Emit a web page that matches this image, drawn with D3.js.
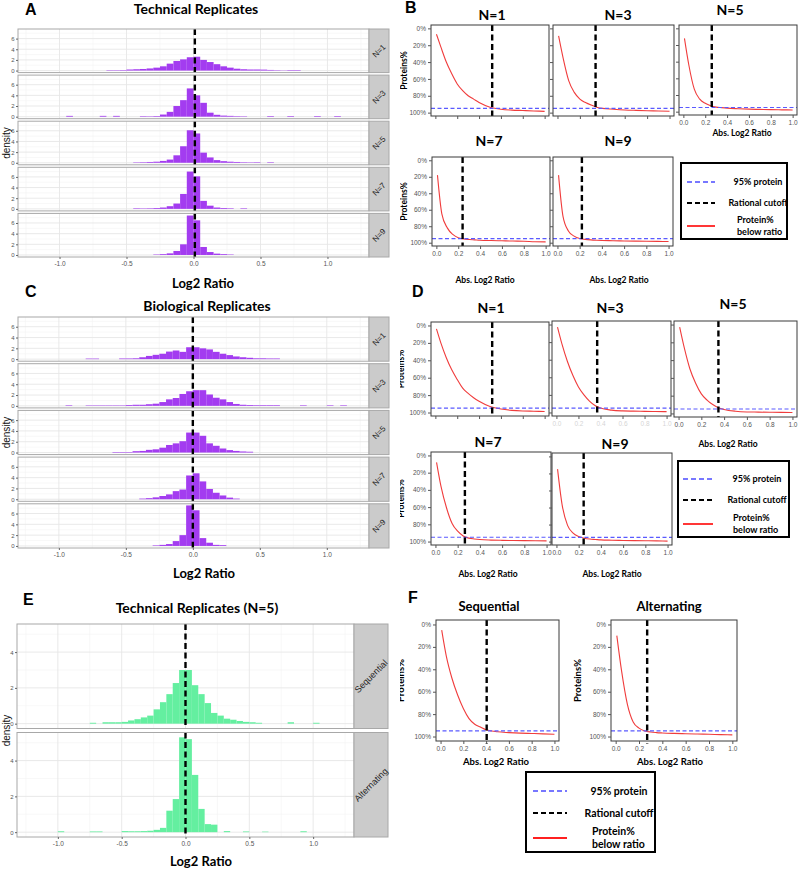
<!DOCTYPE html>
<html><head><meta charset="utf-8">
<script src="https://cdn.jsdelivr.net/npm/d3@7"></script>
<style>body{margin:0;background:#fff}svg{display:block}</style>
</head><body>
<script>
// ================= DATA =================
// Histogram densities, bins of width 0.05 starting at -1.0 (44 bins)
const histStart = -1.0;
const binW = 0.05;
const nLabels = ["N=1", "N=3", "N=5", "N=7", "N=9"];
const mixLabels = ["Sequential", "Alternating"];
const histTicks = [-1.0, -0.5, 0, 0.5, 1.0];
const densTicksAC = [0, 2, 4, 6];
const densTicksE = [0, 2, 4];

const techN1 = [0,0,0,0,0,0,0,0.08,0.08,0.1, 0.2,0.25,0.3,0.4,0.55,0.8,1.3,1.8,2.1,2.5, 2.6,2.0,1.6,1.2,0.8,0.55,0.35,0.25,0.2,0.2, 0.18,0.12,0.08,0.05,0.1,0.1,0,0,0,0, 0,0,0,0];
const techN3 = [0,0.15,0,0,0,0,0.15,0,0.15,0, 0,0,0.1,0.08,0.12,0.4,0.9,2.0,3.1,5.3, 4.0,2.6,0.75,0.35,0.2,0.15,0.1,0.08,0,0, 0,0.12,0,0,0.12,0,0,0,0.12,0, 0,0.12,0,0];
const techN5 = [0,0,0,0,0,0,0,0,0,0, 0,0.08,0.1,0.15,0.2,0.35,0.6,1.4,3.1,6.1, 5.5,1.9,1.0,0.5,0.3,0.2,0.15,0.1,0.08,0.1, 0,0.1,0,0,0,0,0,0,0,0, 0,0,0,0];
const techN7 = [0,0,0,0,0,0,0,0,0,0, 0,0.1,0.08,0.1,0.15,0.25,0.5,1.0,2.8,7.0, 6.1,1.5,0.6,0.25,0.15,0.1,0,0.1,0,0, 0,0,0,0,0,0,0,0,0,0, 0,0,0,0];
const techN9 = [0,0,0,0,0,0,0,0,0,0, 0,0,0,0,0.08,0.15,0.3,0.75,2.0,7.4, 6.5,1.5,0.55,0.25,0.15,0.08,0,0,0,0, 0,0,0,0,0,0,0,0,0,0, 0,0,0,0];

const bioN1 = [0,0,0,0,0.1,0.1,0,0,0,0.12, 0.12,0.15,0.35,0.6,0.8,1.0,1.4,1.6,1.35,2.2, 2.2,2.0,1.8,1.35,1.0,0.75,0.5,0.35,0.25,0.15, 0.15,0.12,0.12,0,0,0,0,0,0,0, 0,0,0,0];
const bioN3 = [0,0.1,0,0,0.08,0.08,0.08,0.08,0.08,0.08, 0.15,0.2,0.2,0.3,0.4,0.7,1.2,1.45,2.2,2.7, 2.9,2.9,2.1,1.5,1.2,0.7,0.35,0.2,0.15,0.12, 0.12,0.12,0.12,0,0,0,0.1,0,0,0, 0.1,0,0.1,0];
const bioN5 = [0,0,0,0,0,0,0,0,0.1,0.1, 0.1,0.25,0.3,0.5,0.6,0.9,1.4,1.7,2.1,3.7, 3.7,3.1,1.7,1.25,0.75,0.45,0.3,0.2,0.15,0, 0,0,0,0,0,0,0,0,0,0, 0,0,0,0];
const bioN7 = [0,0,0,0,0,0,0,0,0,0, 0,0,0.12,0.2,0.35,0.6,0.9,1.5,1.8,4.4, 4.8,3.3,1.9,1.2,0.7,0.3,0.12,0,0,0, 0,0,0,0,0,0,0,0,0,0, 0,0,0,0];
const bioN9 = [0,0,0,0,0,0,0,0,0,0, 0,0,0,0,0.1,0.2,0.35,0.9,2.0,7.5, 6.6,1.45,0.6,0.2,0.15,0,0,0,0,0, 0,0,0,0,0,0,0,0,0,0, 0,0,0,0];

const seqN5 = [0,0,0,0,0,0.05,0,0.08,0.08,0.08, 0.1,0.18,0.25,0.35,0.45,0.8,1.2,1.65,2.27,3.0, 3.0,2.15,1.65,1.15,0.6,0.45,0.28,0.22,0.15,0.1, 0.08,0.05,0,0,0,0,0.08,0,0,0, 0.05,0,0,0];
const altN5 = [0.05,0,0,0,0,0.04,0.04,0,0,0, 0.06,0.05,0.05,0.06,0.08,0.13,0.24,1.2,1.85,5.3, 5.2,3.2,1.3,0.45,0.42,0,0.06,0,0,0.04, 0,0,0.03,0,0,0,0,0,0.05,0, 0,0,0,0];

const vlineTech = 0.01, vlineBio = 0.0, vlineMix = 0.0;

// Cumulative curves: % proteins below |log2 ratio|
const absXs = [0.01, 0.05, 0.1, 0.15, 0.2, 0.25, 0.3, 0.35, 0.4, 0.5, 0.6, 0.7, 0.8, 0.9, 1.0];
const pctTicks = [0, 20, 40, 60, 80, 100];
const absTicks = [0, 0.2, 0.4, 0.6, 0.8, 1.0];

const techCumN1 = [7,22,40,54,66,74,80,84,88,93.5,96,97,97.5,98,98.5];
const techCumN3 = [9,35,62,76,84,88,91,93.5,95,96,96.8,97.3,97.7,98,98.3];
const techCumN5 = [12,44,73,85,90,93,94.5,95.2,95.8,96.5,97,97.3,97.6,97.8,98];
const techCumN7 = [18,65,82,90,94,95.5,96.2,96.6,97,97.4,97.7,98,98.2,98.8,99];
const techCumN9 = [18,68,86,92,95,96,96.6,97,97.3,97.6,97.9,98.1,98.3,98.4,98.5];

const bioCumN1 = [4,20,37,51,62,72,78,83,87,93,96,97.5,98.2,98.5,98.8];
const bioCumN3 = [3,22,42,58,71,80,87,92,95,97.3,98.2,98.5,98.7,98.9,99];
const bioCumN5 = [3,26,50,66,78,85,90,93.5,95.5,97.5,98.3,98.5,98.7,98.8,99];
const bioCumN7 = [8,36,61,79,88,93.5,96,97,97.7,98.3,98.6,98.8,98.9,99,99.2];
const bioCumN9 = [15,56,81,90,94,96,97,97.5,98,98.4,98.7,98.9,99,99.2,99.4];

const seqCum = [5,28,48,63,75,84,89,91.5,94,95.8,96.5,97,97.3,97.6,98];
const altCum = [10,41,71,87,92.5,95,96,96.5,96.8,97.2,97.5,97.8,98,98.3,98.5];

const techCutoffs = [0.52, 0.34, 0.26, 0.24, 0.22];
const bioCutoffs = [0.52, 0.37, 0.35, 0.265, 0.245];
const mixCutoffs = [0.405, 0.27];
const pct95 = 95;

const legendLabels = [["95% protein"], ["Rational cutoff"], ["Protein%", "below ratio"]];

// ================= DRAWING =================
const SANS = "'Liberation Sans', Arial, sans-serif";
const CAL = "Lato, 'Open Sans', sans-serif";
const svg = d3.select("body").append("svg").attr("width", 800).attr("height", 870)
  .style("font-family", SANS);
svg.append("rect").attr("width", 800).attr("height", 870).attr("fill", "#fff");

function txt(g, x, y, s, size, opts = {}) {
  return g.append("text").attr("x", x).attr("y", y).text(s)
    .attr("font-size", size)
    .attr("font-family", opts.family || SANS)
    .attr("font-weight", opts.weight || "normal")
    .attr("text-anchor", opts.anchor || "start")
    .attr("fill", opts.fill || "#000");
}

function facetHist(o) {
  const x = d3.scaleLinear().domain(o.xDomain).range([o.left, o.right]);
  const n = o.series.length;
  o.series.forEach((vals, k) => {
    const top = o.top + k * (o.h + o.gap);
    const y = d3.scaleLinear().domain(o.yDomain).range([top + o.h, top]);
    const g = svg.append("g");
    g.append("rect").attr("x", o.left).attr("y", top).attr("width", o.right - o.left).attr("height", o.h).attr("fill", "#fff");
    const minorX = [-1.25, -0.75, -0.25, 0.25, 0.75, 1.25];
    g.selectAll(null).data(minorX).join("line")
      .attr("x1", d => x(d)).attr("x2", d => x(d)).attr("y1", top).attr("y2", top + o.h)
      .attr("stroke", "#f4f4f4").attr("stroke-width", 0.6);
    g.selectAll(null).data(o.yMinor).join("line")
      .attr("x1", o.left).attr("x2", o.right).attr("y1", d => y(d)).attr("y2", d => y(d))
      .attr("stroke", "#f4f4f4").attr("stroke-width", 0.6);
    g.selectAll(null).data(histTicks).join("line")
      .attr("x1", d => x(d)).attr("x2", d => x(d)).attr("y1", top).attr("y2", top + o.h)
      .attr("stroke", "#e6e6e6").attr("stroke-width", 0.9);
    g.selectAll(null).data(o.yTicks).join("line")
      .attr("x1", o.left).attr("x2", o.right).attr("y1", d => y(d)).attr("y2", d => y(d))
      .attr("stroke", "#e6e6e6").attr("stroke-width", 0.9);
    const bars = vals.map((v, i) => ({ x0: histStart + i * binW, v })).filter(d => d.v > 0);
    g.selectAll(null).data(bars).join("rect")
      .attr("x", d => x(d.x0)).attr("width", d => x(d.x0 + binW) - x(d.x0))
      .attr("y", d => y(d.v)).attr("height", d => y(0) - y(d.v))
      .attr("fill", o.color);
    g.append("line").attr("x1", x(o.vline)).attr("x2", x(o.vline))
      .attr("y1", top).attr("y2", top + o.h)
      .attr("stroke", "#000").attr("stroke-width", 2.4).attr("stroke-dasharray", "6,3.5");
    g.append("rect").attr("x", o.left).attr("y", top).attr("width", o.right - o.left).attr("height", o.h)
      .attr("fill", "none").attr("stroke", "#a8a8a8").attr("stroke-width", 1);
    g.append("rect").attr("x", o.right).attr("y", top).attr("width", o.stripW).attr("height", o.h)
      .attr("fill", "#cbcbcb").attr("stroke", "#a8a8a8").attr("stroke-width", 1);
    g.append("text")
      .attr("transform", `translate(${o.right + o.stripW / 2},${top + o.h / 2}) rotate(-45)`)
      .attr("text-anchor", "middle").attr("dy", "0.35em")
      .attr("font-size", o.stripFont).attr("fill", "#222").text(o.labels[k]);
    const ag = g.append("g").attr("transform", `translate(${o.left},0)`)
      .call(d3.axisLeft(y).tickValues(o.yTicks).tickFormat(d3.format("d")).tickSize(2).tickPadding(1.5));
    ag.select(".domain").remove();
    ag.attr("font-size", 6).attr("font-family", SANS);
    ag.selectAll("text").attr("fill", "#555");
    ag.selectAll("line").attr("stroke", "#666");
  });
  const bottom = o.top + n * o.h + (n - 1) * o.gap;
  const xg = svg.append("g").attr("transform", `translate(0,${bottom})`)
    .call(d3.axisBottom(x).tickValues(histTicks).tickFormat(d => d.toFixed(1)).tickSize(2).tickPadding(2.5));
  xg.select(".domain").remove();
  xg.attr("font-size", 6.5).attr("font-family", SANS);
  xg.selectAll("text").attr("fill", "#555");
  xg.selectAll("line").attr("stroke", "#666");
  svg.append("text")
    .attr("transform", `translate(${o.ylabX},${o.top + (bottom - o.top) / 2}) rotate(-90)`)
    .attr("text-anchor", "middle").attr("dy", "0.35em")
    .attr("font-size", 10).attr("fill", "#111").text("density");
}

// ----- Panel A -----
facetHist({ series: [techN1, techN3, techN5, techN7, techN9], labels: nLabels, color: "#a33cf0",
  left: 18, right: 369, stripW: 20, top: 29, h: 43.6, gap: 2.5,
  xDomain: [-1.31, 1.31], yDomain: [-0.38, 7.8], yTicks: densTicksAC, yMinor: [1, 3, 5, 7],
  vline: vlineTech, stripFont: 8, ylabX: 6 });
// ----- Panel C -----
facetHist({ series: [bioN1, bioN3, bioN5, bioN7, bioN9], labels: nLabels, color: "#a33cf0",
  left: 18, right: 369, stripW: 20, top: 317, h: 44.2, gap: 2.5,
  xDomain: [-1.305, 1.315], yDomain: [-0.38, 7.8], yTicks: densTicksAC, yMinor: [1, 3, 5, 7],
  vline: vlineBio, stripFont: 8, ylabX: 6 });
// ----- Panel E -----
facetHist({ series: [seqN5, altN5], labels: mixLabels, color: "#64efa0",
  left: 17, right: 354, stripW: 34, top: 624, h: 104.5, gap: 4,
  xDomain: [-1.32, 1.32], yDomain: [-0.27, 5.57], yTicks: densTicksE, yMinor: [1, 3, 5],
  vline: vlineMix, stripFont: 9, ylabX: 6 });

// Left-side titles & labels
txt(svg, 25, 15, "A", 16, { weight: "bold" });
txt(svg, 25, 297, "C", 16, { weight: "bold" });
txt(svg, 23, 605, "E", 16, { weight: "bold" });
txt(svg, 196, 14, "Technical Replicates", 14, { family: CAL, weight: "bold", anchor: "middle" });
txt(svg, 207, 311, "Biological Replicates", 14, { family: CAL, weight: "bold", anchor: "middle" });
txt(svg, 197, 613, "Technical Replicates (N=5)", 14, { family: CAL, weight: "bold", anchor: "middle" });
txt(svg, 203, 288, "Log2 Ratio", 13, { family: CAL, weight: "bold", anchor: "middle" });
txt(svg, 204, 578, "Log2 Ratio", 13, { family: CAL, weight: "bold", anchor: "middle" });
txt(svg, 201, 866, "Log2 Ratio", 13, { family: CAL, weight: "bold", anchor: "middle" });

// ----- Right side -----
svg.append("defs").append("clipPath").attr("id", "rightHalf")
  .append("rect").attr("x", 400).attr("y", 0).attr("width", 400).attr("height", 870);
const R = svg.append("g").attr("clip-path", "url(#rightHalf)");

const lineGen = (x, y) => d3.line().x(d => x(d[0])).y(d => y(d[1])).curve(d3.curveMonotoneX);

function cumPanel(o) {
  const x = d3.scaleLinear().domain([-0.04, 1.04]).range([o.x0, o.x0 + o.w]);
  const y = d3.scaleLinear().domain([-4, 104]).range([o.y0, o.y0 + o.h]);
  const g = R.append("g");
  g.append("path").datum(d3.zip(absXs, o.ys)).attr("d", lineGen(x, y))
    .attr("fill", "none").attr("stroke", "#f03c3c").attr("stroke-width", 1.1);
  g.append("line").attr("x1", o.x0).attr("x2", o.x0 + o.w).attr("y1", y(pct95)).attr("y2", y(pct95))
    .attr("stroke", "#5a5aff").attr("stroke-width", 1.2).attr("stroke-dasharray", "4,2.5");
  g.append("line").attr("x1", x(o.cutoff)).attr("x2", x(o.cutoff))
    .attr("y1", o.y0).attr("y2", o.y0 + o.h + (o.cutExt || 0))
    .attr("stroke", "#000").attr("stroke-width", 2.4).attr("stroke-dasharray", "6,3.5");
  g.append("rect").attr("x", o.x0).attr("y", o.y0).attr("width", o.w).attr("height", o.h)
    .attr("fill", "none").attr("stroke", "#3a3a3a").attr("stroke-width", 1);
  const ya = g.append("g").attr("transform", `translate(${o.x0},0)`)
    .call(d3.axisLeft(y).tickValues(pctTicks).tickSize(3).tickPadding(2)
      .tickFormat(o.yLab ? (d => d + "%") : (() => "")));
  ya.select(".domain").remove();
  ya.attr("font-size", 6.5).attr("font-family", SANS);
  ya.selectAll("text").attr("fill", "#555");
  ya.selectAll("line").attr("stroke", "#555");
  const xa = g.append("g").attr("transform", `translate(0,${o.y0 + o.h})`)
    .call(d3.axisBottom(x).tickValues(absTicks).tickSize(3).tickPadding(2)
      .tickFormat(o.xLab ? (d => d.toFixed(1)) : (() => "")));
  xa.select(".domain").remove();
  xa.attr("font-size", 6.5).attr("font-family", SANS);
  xa.selectAll("text").attr("fill", "#555").attr("opacity", o.xLabOp || 1);
  xa.selectAll("line").attr("stroke", "#555");
  txt(g, o.tx, o.ty, o.title, o.tsize || 14, { family: CAL, weight: "bold", anchor: "middle" });
  if (o.xTitle) txt(g, o.xTitle[0], o.xTitle[1], "Abs. Log2 Ratio", o.xtsize || 8.5, { family: CAL, weight: "bold", anchor: "middle" });
  if (o.yTitleX) {
    g.append("text").attr("transform", `translate(${o.yTitleX},${o.y0 + o.h / 2}) rotate(-90)`)
      .attr("text-anchor", "middle").attr("dy", "0.35em").attr("font-family", CAL)
      .attr("font-weight", "bold").attr("font-size", o.ytsize || 8.5).text("Proteins%");
  }
}

function legendBox(o) {
  const g = R.append("g");
  g.append("rect").attr("x", o.x).attr("y", o.y).attr("width", o.w).attr("height", o.h)
    .attr("fill", "#fff").attr("stroke", "#000").attr("stroke-width", 2);
  const styles = [
    { c: "#4b4bff", d: "5,3", w: 1.6 },
    { c: "#000", d: "5,3", w: 2 },
    { c: "#ff2020", d: null, w: 1.8 }];
  legendLabels.forEach((lab, i) => {
    const ly = o.y + o.rows[i];
    g.append("line").attr("x1", o.x + o.l0).attr("x2", o.x + o.l1).attr("y1", ly).attr("y2", ly)
      .attr("stroke", styles[i].c).attr("stroke-width", styles[i].w)
      .attr("stroke-dasharray", styles[i].d);
    if (lab.length === 1) {
      txt(g, o.x + o.tc, ly + o.fs * 0.35, lab[0], o.fs, { family: CAL, weight: "bold", anchor: "middle" });
    } else {
      txt(g, o.x + o.t3, ly - o.fs * 0.3, lab[0], o.fs, { family: CAL, weight: "bold" });
      txt(g, o.x + o.t3, ly + o.fs * 0.95, lab[1], o.fs, { family: CAL, weight: "bold" });
    }
  });
}

// ----- Panel B -----
txt(R, 405, 13, "B", 16, { weight: "bold" });
cumPanel({ x0: 431, y0: 25, w: 118, h: 91, ys: techCumN1, cutoff: techCutoffs[0], title: nLabels[0], tx: 492, ty: 20, yLab: true, xLab: false, yTitleX: 404 });
cumPanel({ x0: 553, y0: 25, w: 121, h: 91, ys: techCumN3, cutoff: techCutoffs[1], title: nLabels[1], tx: 618, ty: 20, yLab: false, xLab: false });
cumPanel({ x0: 679, y0: 25, w: 118, h: 90, ys: techCumN5, cutoff: techCutoffs[2], title: nLabels[2], tx: 730, ty: 15, yLab: false, xLab: true, xTitle: [742, 136] });
cumPanel({ x0: 432, y0: 157, w: 118, h: 89, ys: techCumN7, cutoff: techCutoffs[3], title: nLabels[3], tx: 489, ty: 146, yLab: true, xLab: true, xTitle: [485, 283], yTitleX: 404 });
cumPanel({ x0: 553, y0: 157, w: 120, h: 89, ys: techCumN9, cutoff: techCutoffs[4], title: nLabels[4], tx: 618, ty: 146, yLab: false, xLab: true, xTitle: [619, 283] });
legendBox({ x: 681, y: 163, w: 106, h: 76, rows: [19, 40, 63], l0: 6, l1: 34, tc: 77, t3: 56, fs: 9 });

// ----- Panel D -----
txt(R, 412, 297, "D", 16, { weight: "bold" });
cumPanel({ x0: 431, y0: 322, w: 118, h: 94, ys: bioCumN1, cutoff: bioCutoffs[0], title: nLabels[0], tx: 491, ty: 313, yLab: true, xLab: false, yTitleX: 401 });
cumPanel({ x0: 552, y0: 321, w: 119, h: 95, ys: bioCumN3, cutoff: bioCutoffs[1], title: nLabels[1], tx: 610, ty: 313, yLab: false, xLab: true, xLabOp: 0.25 });
cumPanel({ x0: 674, y0: 321, w: 123, h: 96, ys: bioCumN5, cutoff: bioCutoffs[2], title: nLabels[2], tx: 733, ty: 309, yLab: false, xLab: true, xTitle: [728, 447] });
cumPanel({ x0: 431, y0: 452, w: 120, h: 93, ys: bioCumN7, cutoff: bioCutoffs[3], title: nLabels[3], tx: 488, ty: 447, yLab: true, xLab: true, xTitle: [488, 577], yTitleX: 401 });
cumPanel({ x0: 552, y0: 453, w: 120, h: 92, ys: bioCumN9, cutoff: bioCutoffs[4], title: nLabels[4], tx: 615, ty: 449, yLab: false, xLab: true, xTitle: [612, 577] });
legendBox({ x: 678, y: 461, w: 111, h: 76, rows: [18, 39, 63], l0: 5, l1: 35, tc: 79, t3: 55, fs: 9 });

// ----- Panel F -----
txt(R, 408, 603, "F", 16, { weight: "bold" });
cumPanel({ x0: 436, y0: 620, w: 123, h: 121, ys: seqCum, cutoff: mixCutoffs[0], title: mixLabels[0], tx: 489, ty: 611, tsize: 13, yLab: true, xLab: true, xTitle: [496, 765], xtsize: 9.5, yTitleX: 401, ytsize: 9.5, cutExt: 3 });
cumPanel({ x0: 611, y0: 620, w: 126, h: 121, ys: altCum, cutoff: mixCutoffs[1], title: mixLabels[1], tx: 669, ty: 611, tsize: 13, yLab: true, xLab: true, xTitle: [670, 765], xtsize: 9.5, yTitleX: 578, ytsize: 9.5, cutExt: 3 });
legendBox({ x: 526, y: 772, w: 129, h: 80, rows: [19, 41, 66], l0: 7, l1: 41, tc: 93, t3: 66, fs: 10.5 });
</script>
</body></html>
